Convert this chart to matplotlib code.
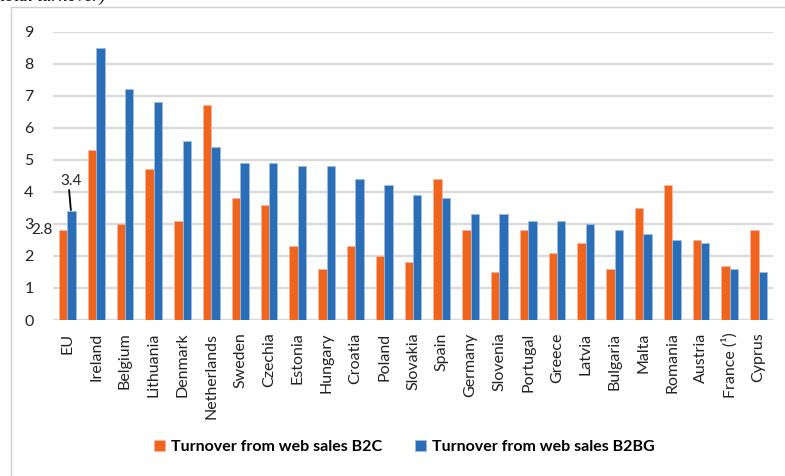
import matplotlib.pyplot as plt
import numpy as np

# turnover share of web sales, % of total turnover
countries = ['EU', 'Ireland', 'Belgium', 'Lithuania', 'Denmark', 'Netherlands',
             'Sweden', 'Czechia', 'Estonia', 'Hungary', 'Croatia', 'Poland',
             'Slovakia', 'Spain', 'Germany', 'Slovenia', 'Portugal', 'Greece',
             'Latvia', 'Bulgaria', 'Malta', 'Romania', 'Austria', 'France (¹)',
             'Cyprus']
b2c = [2.8, 5.3, 3.0, 4.7, 3.1, 6.7, 3.8, 3.6, 2.3, 1.6, 2.3, 2.0, 1.8, 4.4,
       2.8, 1.5, 2.8, 2.1, 2.4, 1.6, 3.5, 4.2, 2.5, 1.7, 2.8]
b2bg = [3.4, 8.5, 7.2, 6.8, 5.6, 5.4, 4.9, 4.9, 4.8, 4.8, 4.4, 4.2, 3.9, 3.8,
        3.3, 3.3, 3.1, 3.1, 3.0, 2.8, 2.7, 2.5, 2.4, 1.6, 1.5]
yticks = list(range(0, 10))

orange = '#F0641E'
blue = '#2A6EB8'
grid = '#D9D9D9'

plt.rcParams['font.family'] = ['Lato', 'DejaVu Sans']

fig = plt.figure(figsize=(7.85, 4.76), dpi=100)
ax = fig.add_axes([0.0675, 0.3277, 0.9172, 0.6057])

x = np.arange(len(countries))
w = 0.29
ax.bar(x - w / 2, b2c, w, color=orange, edgecolor='#F8B89A', linewidth=0.6,
       label='Turnover from web sales B2C', zorder=3)
ax.bar(x + w / 2, b2bg, w, color=blue, edgecolor='#9DBCE0', linewidth=0.6,
       label='Turnover from web sales B2BG', zorder=3)

ax.set_xlim(-0.5, len(countries) - 0.5)
ax.set_ylim(0, 9)
ax.set_yticks(yticks)
ax.set_yticklabels([str(t) for t in yticks], fontsize=11.5, color='#222222')
ax.yaxis.grid(True, color=grid, linewidth=1.6, zorder=0)
ax.tick_params(axis='y', length=0, pad=14)
ax.tick_params(axis='x', length=0, pad=9)
ax.set_xticks(x)
ax.set_xticklabels(countries, rotation=90, fontsize=11.5, color='#222222')
for s in ax.spines.values():
    s.set_visible(False)
ax.axhline(0, color=grid, linewidth=1.6, zorder=1)

# EU data labels
ax.text(-0.5, b2c[0], f'{b2c[0]:.1f}', ha='right', va='center', fontsize=11,
        color='#222222', clip_on=False)
ax.text(0.12, 4.35, f'{b2bg[0]:.1f}', ha='center', va='center', fontsize=11,
        color='#222222', clip_on=False)
ax.plot([0.06, 0.12], [4.05, b2bg[0] + 0.04], color='black', linewidth=1.3,
        zorder=4, clip_on=False)

# legend
leg = fig.legend(loc='center', bbox_to_anchor=(0.515, 0.061), ncol=2, frameon=False,
                 handlelength=0.7, handleheight=0.7, columnspacing=2.1,
                 handletextpad=0.35, prop={'size': 11.5, 'weight': 'bold'})

# frame around the chart and the caption line above it
fig.add_artist(plt.Line2D([11 / 785, 11 / 785], [0, 1 - 7 / 476],
                          transform=fig.transFigure, color='#D0D0D0', linewidth=1))
fig.add_artist(plt.Line2D([11 / 785, 1], [1 - 7 / 476, 1 - 7 / 476],
                          transform=fig.transFigure, color='#D0D0D0', linewidth=1))
fig.text(0.0, 1.008, 'total turnover)', fontsize=13, style='italic',
         family='Liberation Serif', va='center', ha='left')

fig.savefig('out.png', dpi=100)
